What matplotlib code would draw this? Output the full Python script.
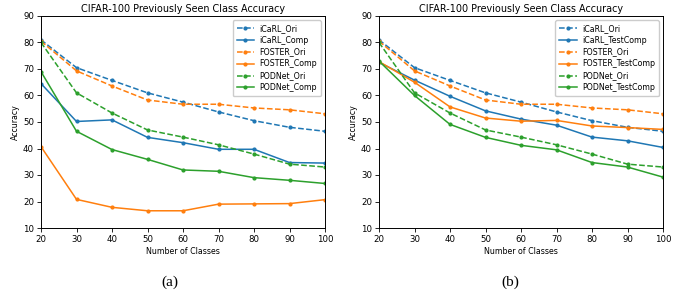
import matplotlib
matplotlib.use("Agg")
import matplotlib.pyplot as plt

classes = [20, 30, 40, 50, 60, 70, 80, 90, 100]

icarl_ori = [81.0, 70.5, 65.7, 61.0, 57.5, 53.8, 50.5, 48.0, 46.5]
foster_ori = [80.5, 69.3, 63.6, 58.3, 56.7, 56.7, 55.3, 54.6, 53.1]
podnet_ori = [80.0, 61.0, 53.4, 47.0, 44.3, 41.4, 37.9, 34.1, 33.0]

icarl_comp = [64.5, 50.2, 50.8, 44.2, 42.2, 39.7, 39.7, 34.7, 34.5]
foster_comp = [40.7, 20.8, 17.8, 16.5, 16.5, 19.0, 19.1, 19.2, 20.7]
podnet_comp = [69.0, 46.5, 39.6, 35.9, 31.9, 31.4, 29.0, 28.0, 26.8]

icarl_test = [72.5, 65.8, 59.7, 54.2, 51.1, 48.8, 44.3, 42.9, 40.4]
foster_test = [72.8, 65.0, 55.7, 51.5, 50.3, 50.6, 48.5, 47.9, 47.2]
podnet_test = [73.0, 60.0, 49.1, 44.2, 41.2, 39.5, 34.7, 33.0, 29.2]

title = "CIFAR-100 Previously Seen Class Accuracy"
blue, orange, green = "#1f77b4", "#ff7f0e", "#2ca02c"

fig = plt.figure(figsize=(6.97, 2.97), dpi=100)
axes = [fig.add_axes([41/697, 1-228/297, 284/697, 212/297]),
        fig.add_axes([379/697, 1-228/297, 284/697, 212/297])]

panels = [
    [("iCaRL_Ori", icarl_ori, blue, "--"), ("iCaRL_Comp", icarl_comp, blue, "-"),
     ("FOSTER_Ori", foster_ori, orange, "--"), ("FOSTER_Comp", foster_comp, orange, "-"),
     ("PODNet_Ori", podnet_ori, green, "--"), ("PODNet_Comp", podnet_comp, green, "-")],
    [("iCaRL_Ori", icarl_ori, blue, "--"), ("iCaRL_TestComp", icarl_test, blue, "-"),
     ("FOSTER_Ori", foster_ori, orange, "--"), ("FOSTER_TestComp", foster_test, orange, "-"),
     ("PODNet_Ori", podnet_ori, green, "--"), ("PODNet_TestComp", podnet_test, green, "-")],
]

for ax, series in zip(axes, panels):
    for name, vals, c, ls in series:
        ax.plot(classes, vals, ls, color=c, marker="o", markersize=2.0, linewidth=1.1, label=name)
    ax.set_xlim(20, 100)
    ax.set_ylim(10, 90)
    ax.set_xticks(classes)
    ax.set_yticks(range(10, 91, 10))
    ax.tick_params(labelsize=6.2, length=3, width=0.6, pad=2)
    for s in ax.spines.values():
        s.set_linewidth(0.7)
    ax.set_title(title, fontsize=6.9, pad=3)
    ax.set_xlabel("Number of Classes", fontsize=5.7, labelpad=2)
    ax.set_ylabel("Accuracy", fontsize=5.7, labelpad=2)
    ax.legend(loc="upper right", fontsize=5.7, handlelength=2.2, labelspacing=0.36,
              borderpad=0.5, handletextpad=0.7, framealpha=1)

fig.text(170/697, 1-282/297, "(a)", fontsize=11, family="Liberation Serif", ha="center", va="center")
fig.text(510/697, 1-282/297, "(b)", fontsize=11, family="Liberation Serif", ha="center", va="center")

fig.savefig("out.png", dpi=100)
